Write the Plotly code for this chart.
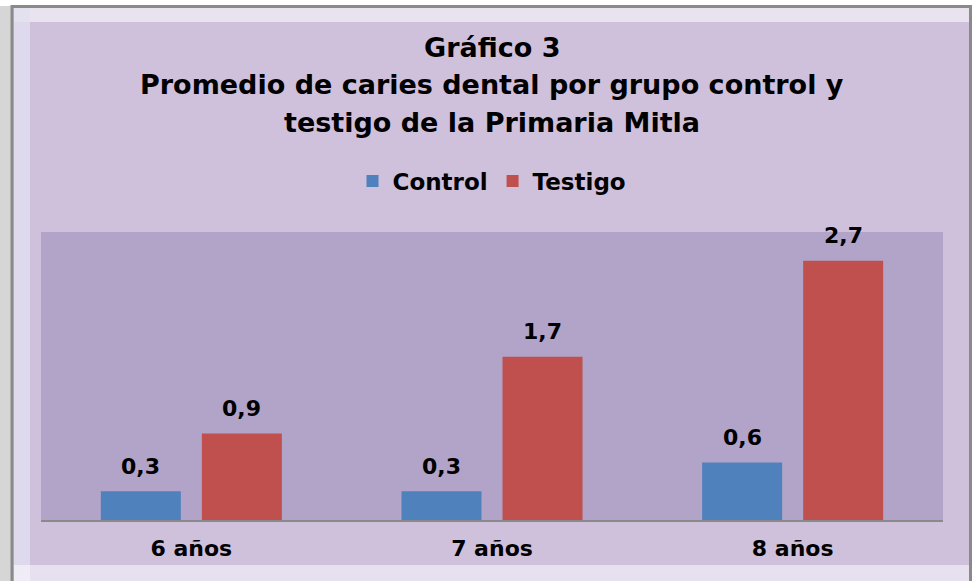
import plotly.graph_objects as go

categories = ["6 años", "7 años", "8 años"]
control = [0.3, 0.3, 0.6]
testigo = [0.9, 1.7, 2.7]
series_names = ["Control", "Testigo"]
title_lines = ["Gráfico 3", "Promedio de caries dental por grupo control y", "testigo de la Primaria Mitla"]

FONT = "DejaVu Sans, Verdana, sans-serif"
W, H = 972, 581
L, R, T, B = 41, 943, 232, 520  # plot area in pixels


def px(x):
    return (x - L) / (R - L)


def py(y):
    return (B - y) / (B - T)


fig = go.Figure()
fig.add_trace(go.Bar(name=series_names[0], x=categories, y=control, marker_color="#4f81bd",
                     marker_line_width=0))
fig.add_trace(go.Bar(name=series_names[1], x=categories, y=testigo, marker_color="#c0504d",
                     marker_line_width=0))

# data labels above bars
for vals, shift in ((control, -50.5), (testigo, 50.5)):
    for c, v in zip(categories, vals):
        fig.add_annotation(x=c, y=v, xref="x", yref="y", text=f"{v:.1f}".replace(".", ","),
                           showarrow=False, xshift=shift, yshift=25,
                           font=dict(family=FONT, size=22, color="black", weight="bold"))

# title lines
for line, yc in zip(title_lines, (47, 85, 122)):
    fig.add_annotation(x=0.5, y=py(yc), xref="paper", yref="paper", text=line, showarrow=False,
                       xanchor="center", yanchor="middle",
                       font=dict(family=FONT, size=27, color="black", weight="bold"))

fig.update_layout(
    width=W, height=H,
    margin=dict(l=L, r=W - R, t=T, b=H - B),
    paper_bgcolor="#cfc0dc",
    plot_bgcolor="#b2a4c8",
    separators=",.",
    barmode="group", bargap=0.328, bargroupgap=0.208,
    legend=dict(orientation="h", x=0.5, xanchor="center", y=py(181), yanchor="middle",
                font=dict(family=FONT, size=23, color="black", weight="bold"),
                bgcolor="rgba(0,0,0,0)", itemwidth=30),
    xaxis=dict(showgrid=False, showline=True, linecolor="#8a8a8a", linewidth=2,
               ticks="", tickfont=dict(family=FONT, size=22, color="black", weight="bold"),
               ticklabelstandoff=8),
    yaxis=dict(range=[0, 3.0], visible=False, showgrid=False),
    showlegend=True,
)

# decorative frame around the chart
deco = [
    dict(x0=0, x1=12, y0=0, y1=H, fill="#d6d6d6"),
    dict(x0=0, x1=W, y0=0, y1=6, fill="#ffffff"),
    dict(x0=14, x1=W, y0=8, y1=22, fill="rgba(255,255,255,0.55)"),
    dict(x0=14, x1=30, y0=8, y1=H, fill="rgba(225,222,240,0.8)"),
    dict(x0=14, x1=W, y0=565, y1=H, fill="rgba(255,255,255,0.5)"),
]
for d in deco:
    fig.add_shape(type="rect", xref="paper", yref="paper", x0=px(d["x0"]), x1=px(d["x1"]),
                  y0=py(d["y1"]), y1=py(d["y0"]), line_width=0, fillcolor=d["fill"], layer="below")
fig.add_shape(type="rect", xref="paper", yref="paper", x0=px(12), x1=px(970.5), y0=py(590), y1=py(6.5),
              line=dict(color="#8a8a8a", width=3), fillcolor="rgba(0,0,0,0)", layer="below")

fig.write_html("out.html", config={"displayModeBar": False},
               post_script="document.body.style.margin='0';")
